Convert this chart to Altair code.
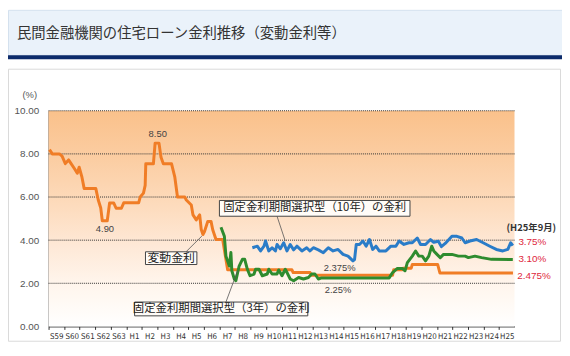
import altair as alt
import pandas as pd

# ---------------- data ----------------
BASE = 1984  # S59
year_labels = ["S59", "S60", "S61", "S62", "S63", "H1", "H2", "H3", "H4", "H5", "H6", "H7", "H8", "H9",
               "H10", "H11", "H12", "H13", "H14", "H15", "H16", "H17", "H18", "H19", "H20", "H21",
               "H22", "H23", "H24", "H25"]

# 変動金利 (years since S59 start, %)
hendo_t = [0.06, 0.24, 0.70, 0.87, 1.08, 1.29, 1.45, 1.66, 1.85, 1.97, 2.15, 2.29, 3.04, 3.20, 3.36, 3.46,
           3.78, 3.93, 4.20, 4.35, 4.69, 4.84, 5.80, 5.90, 6.11, 6.22, 6.26, 6.75, 6.86, 7.11, 7.24, 7.39,
           7.92, 8.13, 8.30, 8.77, 8.87, 9.19, 9.30, 9.51, 9.73, 9.83, 9.94, 10.04, 10.25, 10.46, 10.57,
           10.78, 11.21, 11.53, 15.67, 15.75, 16.84, 16.92, 22.15, 22.22, 22.75, 22.82, 23.35, 23.42,
           25.05, 25.20, 29.90]
hendo_v = [8.20, 8.00, 8.00, 7.90, 7.55, 7.72, 7.55, 7.32, 7.10, 7.38, 6.92, 6.40, 6.40, 5.86, 5.49, 4.90,
           4.90, 5.72, 5.72, 5.48, 5.48, 5.73, 5.73, 6.00, 6.18, 6.54, 7.54, 7.54, 8.50, 8.50, 7.84, 7.54,
           7.54, 6.92, 6.00, 6.00, 5.86, 5.63, 5.17, 4.94, 5.17, 4.49, 4.26, 4.40, 4.87, 4.87, 4.48,
           4.03, 4.03, 2.625, 2.625, 2.50, 2.50, 2.375, 2.375, 2.625, 2.625, 2.70, 2.70, 2.875,
           2.875, 2.475, 2.475]

# 固定金利期間選択型(3年)
fix3_t = [11.10, 11.32, 11.42, 11.64, 11.74, 11.80, 11.96, 12.06, 12.27, 12.48, 12.63, 12.80, 12.97, 13.23,
          13.33, 13.55, 13.76, 14.08, 14.18, 14.39, 14.71, 14.82, 15.03, 15.24, 15.35, 15.56, 15.78, 16.10,
          16.41, 16.73, 16.94, 17.15, 17.37, 17.58, 21.93, 22.15, 22.46, 22.78, 22.95, 23.10, 23.42, 23.63,
          23.84, 24.06, 24.27, 24.48, 24.67, 24.80, 25.01, 25.22, 25.43, 25.97, 26.39, 26.82, 27.03, 27.45,
          27.88, 28.52, 29.89]
fix3_v = [4.60, 4.18, 3.26, 2.80, 3.43, 2.58, 2.20, 2.12, 2.80, 3.11, 3.11, 2.65, 2.35, 2.43,
          2.65, 2.65, 2.35, 2.43, 2.65, 2.43, 2.43, 2.62, 2.35, 2.65, 2.50, 2.20, 2.12, 2.27,
          2.20, 2.27, 2.43, 2.43, 2.20, 2.25, 2.25, 2.50, 2.69, 2.69, 2.58, 2.96, 3.26, 3.50,
          3.26, 3.26, 3.04, 3.26, 3.72, 3.50, 3.34, 3.19, 3.34, 3.34, 3.26, 3.26, 3.19, 3.26,
          3.19, 3.11, 3.10]

# 固定金利期間選択型(10年)
fix10_t = [13.12, 13.44, 13.65, 13.87, 13.97, 14.18, 14.39, 14.61, 14.71, 14.92, 15.14, 15.35, 15.56, 15.78,
           15.99, 16.31, 16.62, 16.83, 17.05, 17.37, 17.69, 18.01, 18.32, 18.64, 18.96, 19.28, 19.60, 19.70,
           19.81, 20.02, 20.24, 20.45, 20.66, 20.87, 21.08, 21.29, 21.72, 22.04, 22.36, 22.57, 22.88, 23.20,
           23.42, 23.74, 23.95, 24.27, 24.59, 24.80, 25.10, 25.29, 25.54, 25.97, 26.29, 26.61, 26.82, 27.13,
           27.56, 27.98, 28.41, 28.83, 29.25, 29.57, 29.75, 29.89]
fix10_v = [3.65, 3.72, 3.50, 3.72, 3.96, 3.50, 3.65, 3.50, 3.80, 3.60, 3.88, 3.50, 3.80, 3.55,
           3.72, 3.50, 3.65, 3.50, 3.65, 3.55, 3.42, 3.65, 3.50, 3.57, 3.34, 3.26, 3.04, 3.10,
           3.80, 3.80, 3.96, 3.72, 4.03, 3.57, 3.72, 3.50, 3.50, 3.72, 3.72, 3.96, 3.80, 3.88,
           3.88, 4.10, 3.80, 3.80, 4.03, 3.90, 3.95, 3.70, 3.85, 4.18, 4.18, 4.10, 3.88, 3.96,
           4.03, 3.88, 3.72, 3.57, 3.50, 3.57, 3.88, 3.75]

series_names = ["変動金利", "固定3年", "固定10年"]
series_colors = ["#F07D26", "#2E8B2E", "#2A7CC8"]

# annotation texts (x in years since S59, y in %)
note_text = ["8.50", "4.90", "2.375%", "2.25%"]
note_t = [7.03, 3.63, 18.74, 18.64]
note_v = [8.93, 4.53, 2.71, 1.70]

end_text = ["3.75%", "3.10%", "2.475%"]
end_t = [31.15, 31.15, 31.25]
end_v = [3.89, 3.12, 2.35]

box_text = ["固定金利期間選択型（10年）の金利", "変動金利", "固定金利期間選択型（3年）の金利"]
box_t1 = [11.00, 6.24, 5.54]
box_t2 = [23.27, 9.55, 16.69]
box_v1 = [5.84, 3.46, 1.13]
box_v2 = [5.11, 2.87, 0.49]
box_size = [11.5, 12, 11.5]

callout_t1 = [14.71, 8.85, 11.42]
callout_v1 = [5.11, 3.46, 1.13]
callout_t2 = [15.24, 9.87, 12.17]
callout_v2 = [3.96, 4.19, 2.58]

title_text = "民間金融機関の住宅ローン金利推移（変動金利等）"

# ---------------- frames ----------------
rows = []
for name, ts, vs in zip(series_names, [hendo_t, fix3_t, fix10_t], [hendo_v, fix3_v, fix10_v]):
    for t, v in zip(ts, vs):
        rows.append({"x": BASE + t, "y": v, "s": name})
lines_df = pd.DataFrame(rows)

notes_df = pd.DataFrame({"x": [BASE + t for t in note_t], "y": note_v, "text": note_text})
end_df = pd.DataFrame({"x": [BASE + t for t in end_t], "y": end_v, "text": end_text})
box_df = pd.DataFrame({"x": [BASE + t for t in box_t1], "x2": [BASE + t for t in box_t2],
                       "y": box_v1, "y2": box_v2, "text": box_text, "size": box_size,
                       "xc": [BASE + (a + b) / 2 for a, b in zip(box_t1, box_t2)],
                       "yc": [(a + b) / 2 for a, b in zip(box_v1, box_v2)]})
call_df = pd.DataFrame({"x": [BASE + t for t in callout_t1], "x2": [BASE + t for t in callout_t2],
                        "y": callout_v1, "y2": callout_v2})
grid_df = pd.DataFrame({"y": [2, 4, 6, 8, 10]})
bg_df = pd.DataFrame({"x": [BASE], "x2": [BASE + 30], "y": [10], "y2": [0]})
one = pd.DataFrame({"a": [0]})

xs = alt.Scale(domain=[BASE, BASE + 30], nice=False, zero=False)
ys = alt.Scale(domain=[0, 10], nice=False, zero=False)

label_arr = "[" + ",".join("'" + l + "'" for l in year_labels) + "]"
xaxis = alt.Axis(values=list(range(BASE, BASE + 30)), labelExpr=label_arr + "[datum.value - " + str(BASE) + "]",
                 labelOffset=7.85, title=None, grid=False, tickSize=3, tickColor="#333",
                 domainColor="#222", labelFontSize=8, labelColor="#333", labelFlush=False,
                 labelOverlap=False, labelPadding=3,
                 labelFont="Liberation Sans Narrow, DejaVu Sans Condensed, sans-serif")
yaxis = alt.Axis(values=[0, 2, 4, 6, 8, 10], format=".2f", title=None, grid=False, ticks=False,
                 domainColor="#222", labelFontSize=10, labelColor="#555", labelPadding=10,
                 labelFont="Liberation Sans")


def X(f):
    return alt.X(f, type="quantitative", scale=xs, axis=xaxis)


def Y(f):
    return alt.Y(f, type="quantitative", scale=ys, axis=yaxis)


grad = alt.Gradient(gradient="linear", x1=0, x2=0, y1=0, y2=1,
                    stops=[alt.GradientStop(color="#FAC18B", offset=0),
                           alt.GradientStop(color="#FBCCA0", offset=0.2),
                           alt.GradientStop(color="#FDDCBE", offset=0.45),
                           alt.GradientStop(color="#FEE8D6", offset=0.62),
                           alt.GradientStop(color="#FFF5EC", offset=0.8),
                           alt.GradientStop(color="#FFFFFF", offset=1)])

bg = alt.Chart(bg_df).mark_rect(color=grad).encode(x=X("x"), x2="x2", y=Y("y"), y2="y2")

grid = alt.Chart(grid_df).mark_rule(color="#333", strokeDash=[1, 1], strokeWidth=1).encode(
    y=Y("y"), x=alt.value(0), x2=alt.value(471))

lines = alt.Chart(lines_df).mark_line(strokeWidth=3, strokeJoin="round").encode(
    x=X("x"), y=Y("y"),
    color=alt.Color("s:N", scale=alt.Scale(domain=series_names, range=series_colors), legend=None),
    detail="s:N")

callouts = alt.Chart(call_df).mark_rule(color="#555", strokeWidth=0.8).encode(
    x=X("x"), y=Y("y"), x2="x2", y2="y2")

boxes = alt.Chart(box_df).mark_rect(fill="#FFFCF8", stroke="#444", strokeWidth=1).encode(
    x=X("x"), x2="x2", y=Y("y"), y2="y2")

box_labels = alt.Chart(box_df).mark_text(font="Noto Sans CJK JP", color="#222", baseline="middle",
                                         align="center").encode(
    x=X("xc"), y=Y("yc"), text="text", size=alt.Size("size:Q", scale=None, legend=None))

notes = alt.Chart(notes_df).mark_text(font="Liberation Sans", fontSize=9.5, color="#444",
                                      baseline="middle", align="center").encode(
    x=X("x"), y=Y("y"), text="text")

ends = alt.Chart(end_df).mark_text(font="Liberation Sans", fontSize=10, color="#E0283C",
                                   baseline="middle", align="center").encode(
    x=X("x"), y=Y("y"), text="text")

h25 = alt.Chart(one).mark_text(text="(H25年9月)", font="Noto Sans CJK JP", fontSize=9.5,
                               fontWeight="bold", color="#333", baseline="middle", align="center").encode(
    x=alt.value(488), y=alt.value(119))

pct = alt.Chart(one).mark_text(text="(%)", font="Liberation Sans", fontSize=9.5, color="#555",
                               baseline="middle", align="center").encode(
    x=alt.value(-19), y=alt.value(-16))

frame = alt.Chart(one).mark_rect(fill=None, stroke="#DADADA", strokeWidth=1).encode(
    x=alt.value(-40.5), x2=alt.value(517.5), y=alt.value(-42), y2=alt.value(233))

band = alt.Chart(one).mark_rect(fill="#EAF2FA", stroke="#D3E1EE", strokeWidth=1).encode(
    x=alt.value(-40.5), x2=alt.value(520), y=alt.value(-101.5), y2=alt.value(-56))

navy = alt.Chart(one).mark_rect(fill="#0D2B6B").encode(
    x=alt.value(-41), x2=alt.value(520), y=alt.value(-56), y2=alt.value(-52))

title = alt.Chart(one).mark_text(text=title_text, font="Noto Sans CJK JP", fontSize=14.5, color="#333",
                                 baseline="middle", align="left").encode(
    x=alt.value(-32), y=alt.value(-78))

chart = alt.layer(frame, band, navy, title, bg, grid, lines, callouts, boxes, box_labels, notes, ends,
                  h25, pct).properties(
    width=471, height=218,
    padding={"left": 41, "top": 102, "right": 48, "bottom": 26},
    autosize=alt.AutoSizeParams(type="none"),
    background="white",
).configure_view(stroke=None)

chart.save("out.html", embed_options={"renderer": "svg", "actions": False})
